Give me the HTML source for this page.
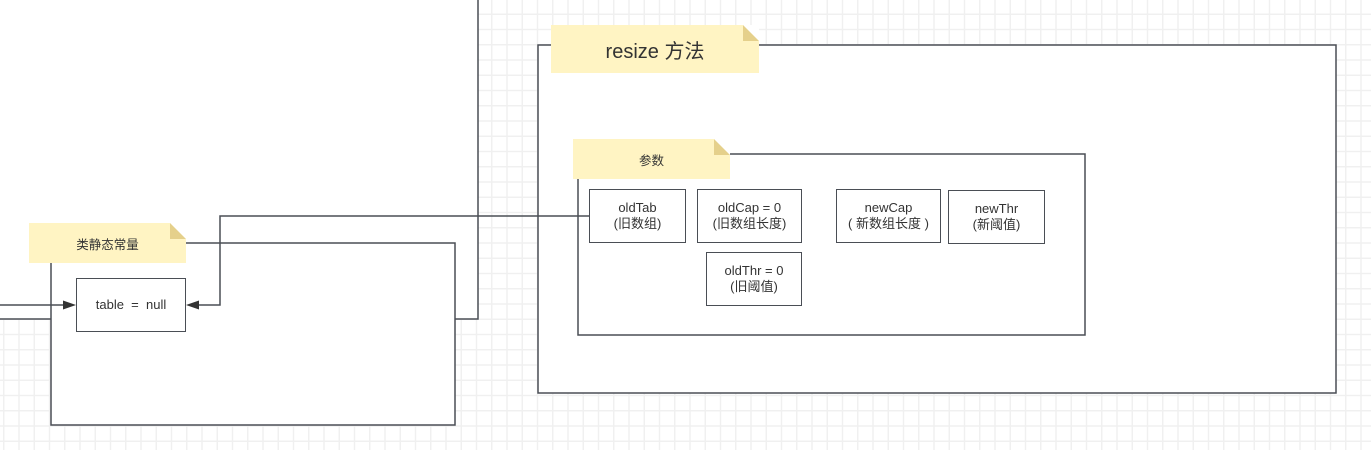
<!DOCTYPE html>
<html><head><meta charset="utf-8"><style>
body{margin:0;width:1371px;height:450px;overflow:hidden;background:#fff;
background-image:linear-gradient(#f0f0f0 1.5px,transparent 1.5px),linear-gradient(90deg,#f0f0f0 1.5px,transparent 1.5px);background-size:15.25px 15.25px;background-position:3px 13.5px;position:relative;font-family:"Liberation Sans","Noto Sans CJK SC",sans-serif;color:#333}
div{position:absolute;box-sizing:border-box}
.b{border:1.5px solid #4a4e55;background:#fff;display:flex;align-items:center;justify-content:center;text-align:center;font-size:13px;line-height:16px}
.n{background:#fff4c3;display:flex;align-items:center;justify-content:center;font-size:12.5px}
.n:after{content:"";position:absolute;right:0;top:0;border-style:solid;border-width:0 16px 16px 0;border-color:#fff #fff #e5d08b #e5d08b}
</style></head><body>
<div style="left:0;top:0;width:478px;height:319px;background:#fff"></div>
<svg style="position:absolute;left:0;top:0" width="1371" height="450">
<rect x="51" y="243" width="404" height="182" fill="#fff" stroke="#4a4e55" stroke-width="1.5"/>
<rect x="538" y="45" width="798" height="348" fill="#fff" stroke="#4a4e55" stroke-width="1.5"/>
<rect x="578" y="154" width="507" height="181" fill="#fff" stroke="#4a4e55" stroke-width="1.5"/>
<polyline points="478,0 478,319 455,319" fill="none" stroke="#4a4e55" stroke-width="1.5"/>
<line x1="0" y1="319" x2="51" y2="319" stroke="#4a4e55" stroke-width="1.5"/>
<line x1="0" y1="305" x2="66" y2="305" stroke="#4a4e55" stroke-width="1.5"/>
<polygon points="76,305 63,300.5 63,309.5" fill="#333"/>
<polyline points="589,216 220,216 220,305 196,305" fill="none" stroke="#4a4e55" stroke-width="1.5"/>
<polygon points="186,305 199,300.5 199,309.5" fill="#333"/>
</svg>
<div class="n" style="left:29px;top:223px;width:157px;height:40px">类静态常量</div>
<div class="b" style="left:76px;top:278px;width:110px;height:54px">table&nbsp; = &nbsp;null</div>
<div class="n" style="left:551px;top:25px;width:208px;height:48px;font-size:20px">resize 方法</div>
<div class="n" style="left:573px;top:139px;width:157px;height:40px">参数</div>
<div class="b" style="left:589px;top:189px;width:97px;height:54px">oldTab<br>(旧数组)</div>
<div class="b" style="left:697px;top:189px;width:105px;height:54px">oldCap = 0<br>(旧数组长度)</div>
<div class="b" style="left:706px;top:252px;width:96px;height:54px">oldThr = 0<br>(旧阈值)</div>
<div class="b" style="left:836px;top:189px;width:105px;height:54px">newCap<br>( 新数组长度 )</div>
<div class="b" style="left:948px;top:190px;width:97px;height:54px">newThr<br>(新阈值)</div>
</body></html>
